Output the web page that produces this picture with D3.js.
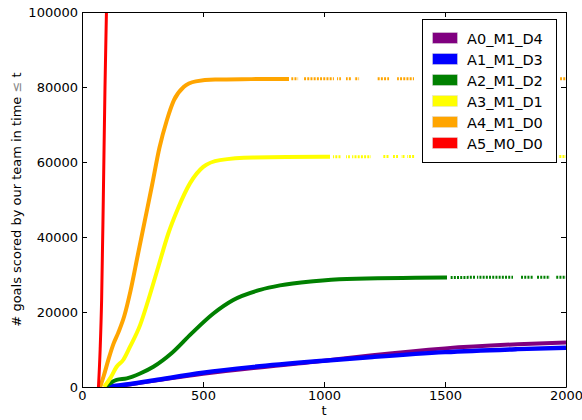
<!DOCTYPE html>
<html>
<head>
<meta charset="utf-8">
<script src="https://cdn.jsdelivr.net/npm/d3@7"></script>
<style>
  body { margin: 0; background: #fff; }
  text { font-family: "DejaVu Sans", sans-serif; }
</style>
</head>
<body>
<div id="chart"></div>
<script>
// series names (legend order)
const seriesNames = ["A0_M1_D4", "A1_M1_D3", "A2_M1_D2", "A3_M1_D1", "A4_M1_D0", "A5_M0_D0"];
const seriesColors = ["purple", "blue", "green", "yellow", "orange", "red"];

// cumulative goals: t values and counts
const tA0 = [130, 500, 1000, 1200, 1500, 1800, 2000];
const vA0 = [0, 3500, 7000, 8500, 10300, 11400, 11900];
const tA1 = [102, 200, 300, 500, 700, 1000, 1200, 1500, 1800, 2000];
const vA1 = [0, 800, 1800, 3800, 5300, 7000, 8000, 9300, 10100, 10500];
const tA2 = [95, 116, 143, 185, 240, 295, 370, 453, 543, 625, 736, 818, 956, 1094, 1500, 2000];
const vA2 = [0, 1000, 1900, 2300, 3600, 5400, 9000, 14300, 19600, 23200, 25900, 27100, 28200, 28800, 29200, 29300];
const tA3 = [91, 120, 143, 170, 198, 240, 274, 315, 357, 394, 446, 501, 570, 707, 1000, 2000];
const vA3 = [0, 2700, 5400, 7200, 10700, 16500, 23200, 32000, 41000, 47200, 54300, 58700, 60500, 61200, 61400, 61500];
const tA4 = [75, 90, 110, 130, 150, 175, 200, 230, 260, 290, 320, 350, 380, 420, 470, 550, 700, 1000, 2000];
const vA4 = [0, 3000, 7500, 11500, 14500, 19000, 25500, 35000, 44500, 54000, 63800, 71000, 76500, 80000, 81500, 82000, 82100, 82200, 82200];
const tA5 = [68, 75, 81, 88, 95, 101, 104];
const vA5 = [0, 10000, 23000, 50000, 80000, 100000, 110000];

// where the data thins out into dots: last dense t, then t ranges that still have points
const solidEnd = [null, null, 1508, 1025, 855, null];
const dotRanges = [
  [], [],
  [[1521, 1624], [1632, 1781], [1810, 1864], [1880, 1934], [1955, 2000]],
  [[1037, 1070], [1091, 1107], [1116, 1194], [1244, 1269], [1285, 1306], [1318, 1335], [1343, 1376], [1420, 1960], [1967, 2000]],
  [[864, 893], [913, 1041], [1054, 1070], [1091, 1112], [1124, 1145], [1219, 1269], [1302, 1372], [1410, 1960], [1971, 2000]],
  []
];

const xTicks = [0, 500, 1000, 1500, 2000];
const yTicks = [0, 20000, 40000, 60000, 80000, 100000];

const tSeries = [tA0, tA1, tA2, tA3, tA4, tA5];
const vSeries = [vA0, vA1, vA2, vA3, vA4, vA5];
const lineWidths = [4, 4.5, 4, 4, 4, 3];

const W = 582, H = 420;
const plot = { left: 82, right: 566, top: 12, bottom: 387 };

const svg = d3.select("#chart").append("svg")
    .attr("width", W)
    .attr("height", H);

const x = d3.scaleLinear().domain([0, 2000]).range([plot.left, plot.right]);
const y = d3.scaleLinear().domain([0, 100000]).range([plot.bottom, plot.top]);

const defs = svg.append("defs");
defs.append("clipPath").attr("id", "plotclip")
  .append("rect")
    .attr("x", plot.left).attr("y", plot.top)
    .attr("width", plot.right - plot.left).attr("height", plot.bottom - plot.top);

const line = d3.line()
    .x(d => x(d[0]))
    .y(d => y(d[1]))
    .curve(d3.curveMonotoneX);

const lines = svg.append("g").attr("clip-path", "url(#plotclip)");

seriesNames.forEach((name, i) => {
  const pts = tSeries[i].map((t, j) => [t, vSeries[i][j]]);
  if (solidEnd[i] == null) {
    lines.append("path")
        .attr("d", line(pts))
        .attr("fill", "none")
        .attr("stroke", seriesColors[i])
        .attr("stroke-width", lineWidths[i]);
    return;
  }
  // dense part
  const cs = defs.append("clipPath").attr("id", "solid" + i);
  cs.append("rect")
      .attr("x", 0).attr("y", 0)
      .attr("width", x(solidEnd[i])).attr("height", H);
  lines.append("g").attr("clip-path", `url(#solid${i})`)
    .append("path")
      .attr("d", line(pts))
      .attr("fill", "none")
      .attr("stroke", seriesColors[i])
      .attr("stroke-width", lineWidths[i]);
  // sparse dotted tail
  const cd = defs.append("clipPath").attr("id", "dots" + i);
  dotRanges[i].forEach(r => {
    cd.append("rect")
        .attr("x", x(r[0])).attr("y", 0)
        .attr("width", x(r[1]) - x(r[0])).attr("height", H);
  });
  lines.append("g").attr("clip-path", `url(#dots${i})`)
    .append("path")
      .attr("d", line(pts))
      .attr("fill", "none")
      .attr("stroke", seriesColors[i])
      .attr("stroke-width", 3)
      .attr("stroke-dasharray", "2,1.2");
});

// axes, matplotlib style: inward ticks on all four sides
const fs = "13px";
const axB = svg.append("g")
    .attr("transform", `translate(0,${plot.bottom})`)
    .call(d3.axisBottom(x).tickValues(xTicks).tickSizeInner(-5).tickSizeOuter(0).tickPadding(4).tickFormat(d3.format("d")));
const axL = svg.append("g")
    .attr("transform", `translate(${plot.left},0)`)
    .call(d3.axisLeft(y).tickValues(yTicks).tickSizeInner(-5).tickSizeOuter(0).tickPadding(4).tickFormat(d3.format("d")));
const axT = svg.append("g")
    .attr("transform", `translate(0,${plot.top})`)
    .call(d3.axisTop(x).tickValues(xTicks).tickSizeInner(-5).tickSizeOuter(0).tickFormat(""));
const axR = svg.append("g")
    .attr("transform", `translate(${plot.right},0)`)
    .call(d3.axisRight(y).tickValues(yTicks).tickSizeInner(-5).tickSizeOuter(0).tickFormat(""));

[axB, axL, axT, axR].forEach(g => {
  g.selectAll("text").attr("font-size", fs).attr("fill", "#000")
    .style("font-family", "'DejaVu Sans', sans-serif");
  g.selectAll("line").attr("stroke", "#000");
  g.select(".domain").attr("stroke", "#000");
});

// axis labels
svg.append("text")
    .attr("x", (plot.left + plot.right) / 2)
    .attr("y", 415)
    .attr("text-anchor", "middle")
    .attr("font-size", fs)
    .text("t");

const yl = svg.append("text")
    .attr("transform", `translate(21,${(plot.top + plot.bottom) / 2}) rotate(-90)`)
    .attr("text-anchor", "middle")
    .attr("font-size", fs);
yl.append("tspan").text("# goals scored by our team in time ");
yl.append("tspan").attr("fill", "#888").text("≤");
yl.append("tspan").text(" t");

// legend
const lg = svg.append("g");
lg.append("rect")
    .attr("x", 422.5).attr("y", 19.5)
    .attr("width", 134).attr("height", 143)
    .attr("fill", "#fff")
    .attr("stroke", "#000")
    .attr("stroke-width", 1);
seriesNames.forEach((name, i) => {
  const row = lg.append("g").attr("transform", `translate(0,${21 * i})`);
  row.append("rect")
      .attr("x", 432.5).attr("y", 32.5)
      .attr("width", 25).attr("height", 11)
      .attr("fill", seriesColors[i])
      .attr("stroke", "#ddd")
      .attr("stroke-width", 0.5);
  row.append("text")
      .attr("x", 467).attr("y", 43.5)
      .attr("font-size", "14.5px")
      .text(name);
});
</script>
</body>
</html>
